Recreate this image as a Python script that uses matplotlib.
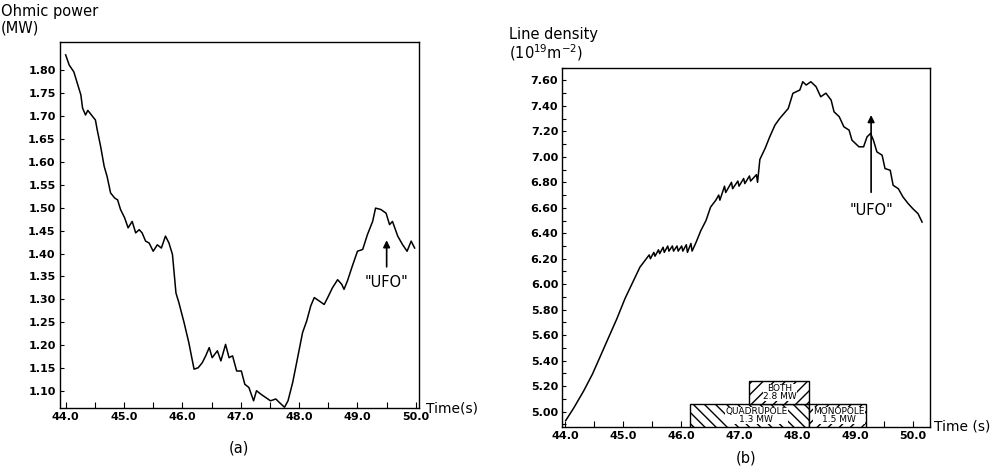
import matplotlib.pyplot as plt
from matplotlib.patches import Rectangle
from matplotlib.ticker import MultipleLocator, FormatStrFormatter

# (a) Ohmic power, MW
t_a = [44.0, 44.06, 44.14, 44.2, 44.26, 44.29, 44.34, 44.38, 44.46, 44.51, 44.54, 44.6,
       44.66, 44.71, 44.77, 44.84, 44.89, 44.94, 45.01, 45.07, 45.14, 45.2, 45.26, 45.31,
       45.37, 45.43, 45.5, 45.57, 45.64, 45.71, 45.77, 45.83, 45.89, 45.94, 46.03, 46.11,
       46.2, 46.27, 46.34, 46.4, 46.46, 46.51, 46.6, 46.66, 46.74, 46.8, 46.86, 46.93,
       47.01, 47.07, 47.14, 47.22, 47.27, 47.35, 47.43, 47.51, 47.6, 47.69, 47.75, 47.81,
       47.89, 47.97, 48.06, 48.13, 48.2, 48.26, 48.34, 48.43, 48.49, 48.57, 48.66, 48.73,
       48.77, 48.83, 48.91, 49.0, 49.09, 49.17, 49.26, 49.31, 49.4, 49.49, 49.55, 49.6,
       49.69, 49.77, 49.85, 49.92, 49.98]
p_a = [1.833, 1.811, 1.796, 1.771, 1.746, 1.717, 1.702, 1.712, 1.699, 1.691, 1.670, 1.633,
       1.590, 1.568, 1.532, 1.521, 1.517, 1.496, 1.478, 1.456, 1.470, 1.445, 1.452, 1.445,
       1.427, 1.423, 1.405, 1.419, 1.412, 1.438, 1.423, 1.398, 1.314, 1.293, 1.249, 1.206,
       1.148, 1.151, 1.162, 1.177, 1.195, 1.173, 1.188, 1.166, 1.202, 1.173, 1.177, 1.144,
       1.144, 1.115, 1.108, 1.079, 1.101, 1.093, 1.086, 1.079, 1.083, 1.072, 1.065, 1.079,
       1.119, 1.170, 1.228, 1.253, 1.286, 1.304, 1.297, 1.289, 1.304, 1.325, 1.343, 1.333,
       1.322, 1.341, 1.372, 1.405, 1.409, 1.441, 1.470, 1.499, 1.496, 1.488, 1.463, 1.470,
       1.438, 1.420, 1.405, 1.427, 1.412]

# (b) Line density, 1e19 m^-2
t_b = [44.01, 44.15, 44.32, 44.47, 44.61, 44.75, 44.89, 45.03, 45.18, 45.29, 45.40,
       45.45, 45.47, 45.53, 45.55, 45.61, 45.63, 45.69, 45.71, 45.77, 45.79, 45.85, 45.87,
       45.93, 45.95, 46.01, 46.03, 46.09, 46.11, 46.17, 46.19, 46.26, 46.34, 46.43, 46.51,
       46.6, 46.65, 46.67, 46.75, 46.77, 46.87, 46.89, 46.98, 47.0, 47.08, 47.1, 47.18,
       47.2, 47.3, 47.32, 47.36, 47.45, 47.53, 47.62, 47.7, 47.85, 47.93, 48.05, 48.1,
       48.16, 48.24, 48.33, 48.41, 48.5, 48.59, 48.64, 48.73, 48.81, 48.9, 48.95, 49.07,
       49.15, 49.21, 49.27, 49.32, 49.38, 49.47, 49.52, 49.61, 49.66, 49.75, 49.83, 49.92,
       50.0, 50.09, 50.16]
n_b = [4.93, 5.03, 5.163, 5.294, 5.438, 5.583, 5.727, 5.885, 6.029, 6.134, 6.20,
       6.23, 6.20, 6.25, 6.22, 6.27, 6.24, 6.29, 6.25, 6.30, 6.26, 6.30, 6.26,
       6.30, 6.26, 6.30, 6.26, 6.31, 6.25, 6.32, 6.26, 6.33, 6.42, 6.50, 6.606,
       6.66, 6.70, 6.66, 6.77, 6.72, 6.80, 6.75, 6.81, 6.77, 6.83, 6.79, 6.85,
       6.81, 6.86, 6.80, 6.98, 7.066, 7.157, 7.249, 7.30, 7.38, 7.499, 7.525, 7.59,
       7.564, 7.59, 7.551, 7.472, 7.50, 7.446, 7.354, 7.315, 7.236, 7.21, 7.131, 7.079,
       7.079, 7.157, 7.184, 7.131, 7.039, 7.013, 6.908, 6.895, 6.777, 6.75, 6.685, 6.633,
       6.593, 6.554, 6.488]

# heating phases (start, end, top) and labels
heat_quad = (46.16, 48.2, 5.06)
heat_mono = (48.2, 49.2, 5.06)
heat_both = (47.17, 48.2, 5.24)

plt.rcParams['hatch.linewidth'] = 1.0
fig = plt.figure(figsize=(9.97, 4.67), dpi=100)
tick_font = dict(family='DejaVu Sans', size=8, weight='bold')

ax1 = fig.add_axes([0.060, 0.126, 0.360, 0.784])
ax1.plot(t_a, p_a, color='black', lw=1.1)
ax1.set_xlim(43.9, 50.05)
ax1.set_ylim(1.063, 1.861)
ax1.set_yticks([1.10 + 0.05 * i for i in range(15)])
ax1.yaxis.set_major_formatter(FormatStrFormatter('%.2f'))

ax2 = fig.add_axes([0.564, 0.086, 0.369, 0.769])
ax2.plot(t_b, n_b, color='black', lw=1.1)
ax2.set_xlim(43.95, 50.3)
ax2.set_ylim(4.88, 7.70)
ax2.set_yticks([5.0 + 0.2 * i for i in range(14)])
ax2.yaxis.set_major_formatter(FormatStrFormatter('%.2f'))
ax2.yaxis.set_minor_locator(MultipleLocator(0.1))

for ax in (ax1, ax2):
    ax.set_xticks([44, 45, 46, 47, 48, 49, 50])
    ax.xaxis.set_major_formatter(FormatStrFormatter('%.1f'))
    ax.xaxis.set_minor_locator(MultipleLocator(0.5))
    ax.tick_params(which='both', direction='in', length=3, width=0.8, pad=3)
    ax.tick_params(axis='x', which='both', direction='in', length=4)
    for lab in ax.get_xticklabels() + ax.get_yticklabels():
        lab.set_fontproperties(tick_font)
    for s in ax.spines.values():
        s.set_linewidth(1.0)

fig.text(0.001, 0.925, 'Ohmic power\n(MW)', fontsize=10.5, ha='left', va='bottom',
         linespacing=1.05)
fig.text(0.511, 0.865, 'Line density\n(10$^{19}$m$^{-2}$)', fontsize=10.5, ha='left',
         va='bottom', linespacing=1.05)
ax1.text(1.02, 0.0, 'Time(s)', transform=ax1.transAxes, fontsize=10, ha='left', va='center')
ax2.text(1.01, 0.0, 'Time (s)', transform=ax2.transAxes, fontsize=10, ha='left', va='center')
fig.text(0.24, 0.03, '(a)', fontsize=10.5, ha='center')
fig.text(0.748, 0.01, '(b)', fontsize=10.5, ha='center')

ax1.annotate('', xy=(49.5, 1.435), xytext=(49.5, 1.365),
             arrowprops=dict(arrowstyle='-|>', color='black', lw=1.2, mutation_scale=10))
ax1.text(49.5, 1.337, '"UFO"', fontsize=10.5, ha='center', va='center')
ax2.annotate('', xy=(49.28, 7.35), xytext=(49.28, 6.70),
             arrowprops=dict(arrowstyle='-|>', color='black', lw=1.2, mutation_scale=10))
ax2.text(49.28, 6.58, '"UFO"', fontsize=10.5, ha='center', va='center')

ybot = 4.88
for (x0, x1, top), hatch in ((heat_quad, '\\\\\\'), (heat_mono, '///'), (heat_both, '///')):
    y0 = ybot if top < 5.1 else heat_quad[2]
    ax2.add_patch(Rectangle((x0, y0), x1 - x0, top - y0, facecolor='white',
                            edgecolor='black', hatch=hatch, lw=1.0, zorder=3))
lab_kw = dict(fontsize=6.5, ha='center', va='center', zorder=4, linespacing=0.85,
              bbox=dict(facecolor='white', edgecolor='none', pad=0.1))
ax2.text(47.3, 4.97, 'QUADRUPOLE\n1.3 MW', **lab_kw)
ax2.text(48.72, 4.97, 'MONOPOLE\n1.5 MW', **lab_kw)
ax2.text(47.7, 5.15, 'BOTH\n2.8 MW', **lab_kw)

fig.savefig('out.png', dpi=100)
